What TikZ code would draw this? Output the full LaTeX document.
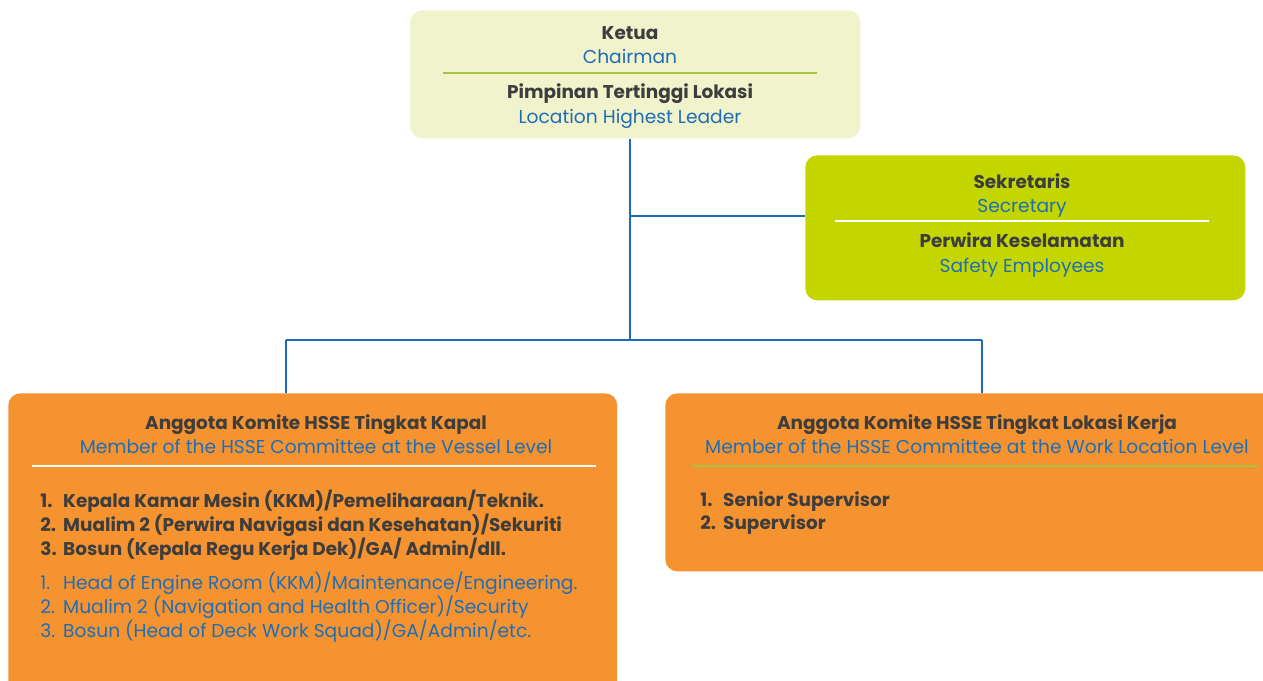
\documentclass[tikz,border=0pt]{standalone}
\usepackage{fontspec}
\setmainfont{Poppins}
\definecolor{leadfill}{HTML}{F0F3CB}
\definecolor{secfill}{HTML}{C4D600}
\definecolor{memfill}{HTML}{F69331}
\definecolor{txtdark}{HTML}{3D3D3D}
\definecolor{txtblue}{HTML}{1F6DB5}
\definecolor{linkblue}{HTML}{1A6BB8}
\definecolor{rulegreen}{HTML}{A9C23F}
\tikzset{
	box/.style={rectangle, rounded corners=0.24cm, inner sep=0pt, anchor=north west},
	head/.style={inner sep=0pt, text height=7.4pt, text depth=0pt, text=txtdark, font=\fontsize{10.5}{13.6}\selectfont\bfseries},
	sub/.style={inner sep=0pt, text height=7.4pt, text depth=0pt, text=txtblue, font=\fontsize{10.62}{13.6}\selectfont},
	list/.style={inner sep=0pt, anchor=west, align=left, font=\fontsize{10.5}{13.6}\selectfont},
	link/.style={draw=linkblue, line width=0.6pt},
	divider/.style={line width=0.7pt}
}
\newcommand{\itm}[2]{\makebox[13pt][l]{#1}#2}

\begin{document}
\begin{tikzpicture}[x=0.02cm, y=-0.02cm]
			%%%%% START %%%%%
			\clip (0,0) rectangle (1263,680);
			\fill[white] (0,0) rectangle (1263,680);
			
			% boxes
			\node[box, fill=leadfill, minimum width=9cm, minimum height=2.56cm] (lead) at (410,10) {};
			\node[box, fill=secfill, minimum width=8.8cm, minimum height=2.9cm] (sec) at (805,155) {};
			\node[box, fill=memfill, minimum width=12.18cm, minimum height=6.14cm] (vessel) at (8,393) {};
			\node[box, fill=memfill, minimum width=12.5cm, minimum height=3.56cm] (site) at (665,393) {};
			
			% connectors
			\coordinate (split) at (630,340);
			\coordinate (secjoin) at (630,216);
			\coordinate (lv) at (286,340);
			\coordinate (rv) at (982,340);
			\draw[link] (split |- lead.south) -- (split);
			\draw[link] (secjoin) -- (secjoin -| sec.west);
			\draw[link] (lv) -- (rv);
			\draw[link] (lv) -- (lv |- vessel.north);
			\draw[link] (rv) -- (rv |- site.north);
			
			% chairman
			\node[head] (ketua) at (630,33) {Ketua};
			\node[sub] (chair) at (630,57) {Chairman};
			\draw[divider, rulegreen] (443,73) -- (817,73);
			\node[head] (pimpinan) at (630,92) {Pimpinan Tertinggi Lokasi};
			\node[sub] (leader) at (630,117) {Location Highest Leader};
			
			% secretary
			\node[head] (sekretaris) at (1022,182) {Sekretaris};
			\node[sub] (secretary) at (1022,206) {Secretary};
			\draw[divider, white] (835,221) -- (1209,221);
			\node[head] (perwira) at (1022,241) {Perwira Keselamatan};
			\node[sub] (safety) at (1022,266) {Safety Employees};
			
			% vessel level
			\node[head] (kapal) at (316,423) {Anggota Komite HSSE Tingkat Kapal};
			\node[sub] (vesselen) at (316,447) {Member of the HSSE Committee at the Vessel Level};
			\draw[divider, white] (32,466) -- (596,466);
			\node[list, text=txtdark, font=\fontsize{10.5}{13.6}\selectfont\bfseries] (kapalid) at (40,525) {%
				\itm{1.}{Kepala Kamar Mesin (KKM)/Pemeliharaan/Teknik.}\\
				\itm{2.}{Mualim 2 (Perwira Navigasi dan Kesehatan)/Sekuriti}\\
				\itm{3.}{Bosun (Kepala Regu Kerja Dek)/GA/ Admin/dll.}};
			\node[list, text=txtblue, font=\fontsize{10.62}{13.6}\selectfont] (kapalen) at (40,607) {%
				\itm{1.}{Head of Engine Room (KKM)/Maintenance/Engineering.}\\
				\itm{2.}{Mualim 2 (Navigation and Health Officer)/Security}\\
				\itm{3.}{Bosun (Head of Deck Work Squad)/GA/Admin/etc.}};
			
			% work location level
			\node[head] (lokasi) at (977,423) {Anggota Komite HSSE Tingkat Lokasi Kerja};
			\node[sub] (siteen) at (977,447) {Member of the HSSE Committee at the Work Location Level};
			\draw[divider, rulegreen] (692,466) -- (1258,466);
			\node[list, text=txtdark, font=\fontsize{10.5}{13.6}\selectfont\bfseries] (lokasiid) at (700,513) {%
				\itm{1.}{Senior Supervisor}\\
				\itm{2.}{Supervisor}};
			%%%%% END %%%%%
\end{tikzpicture}
\end{document}
